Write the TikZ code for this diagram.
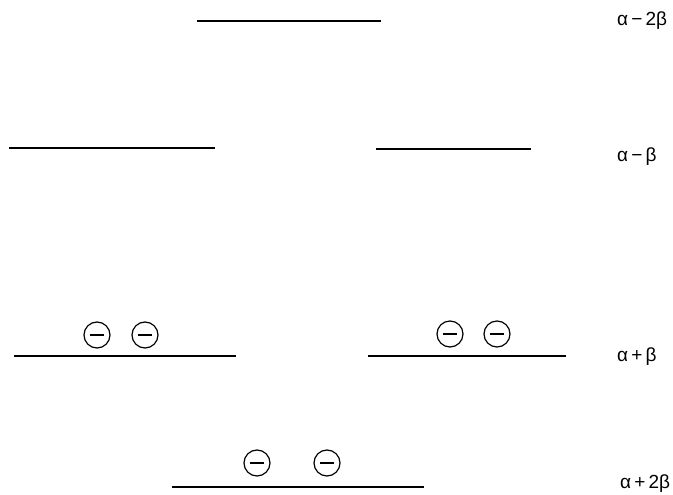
\documentclass[tikz,border=0pt]{standalone}
\usepackage{fontspec}
\setmainfont{Liberation Sans}
\begin{document}
\begin{tikzpicture}[x=1pt,y=-1pt,
  level/.style={line width=1.5pt},
  elec/.style={circle,draw,line width=1.2pt,minimum size=26pt,inner sep=0pt,
    path picture={\draw[line width=1.5pt] ([xshift=-7pt]path picture bounding box.center) -- ([xshift=7pt]path picture bounding box.center);}},
  lab/.style={anchor=base west,font=\fontsize{19}{22}\selectfont,inner sep=0pt}]
\useasboundingbox (0,0) rectangle (673,495);
% levels
\coordinate (a1) at (197,21); \coordinate (a2) at (381,21);
\draw[level] (a1) -- (a2);
\coordinate (b1) at (9,148); \coordinate (b2) at (215,148);
\draw[level] (b1) -- (b2);
\coordinate (c1) at (376,149); \coordinate (c2) at (531,149);
\draw[level] (c1) -- (c2);
\coordinate (d1) at (14,356); \coordinate (d2) at (236,356);
\draw[level] (d1) -- (d2);
\coordinate (e1) at (368,356); \coordinate (e2) at (566,356);
\draw[level] (e1) -- (e2);
\coordinate (f1) at (172,487); \coordinate (f2) at (424,487);
\draw[level] (f1) -- (f2);
% electrons
\node[elec] (n1) at (97,335) {};
\node[elec] (n2) at (145,335) {};
\node[elec] (n3) at (450,334) {};
\node[elec] (n4) at (497,334) {};
\node[elec] (n5) at (257,463) {};
\node[elec] (n6) at (327,463) {};
% labels
\node[lab] (l1) at (617,26) {α\,−\,2β};
\node[lab] (l2) at (617,161) {α\,−\,β};
\node[lab] (l3) at (617,361) {α\,+\,β};
\node[lab] (l4) at (620,488) {α\,+\,2β};
\end{tikzpicture}
\end{document}
